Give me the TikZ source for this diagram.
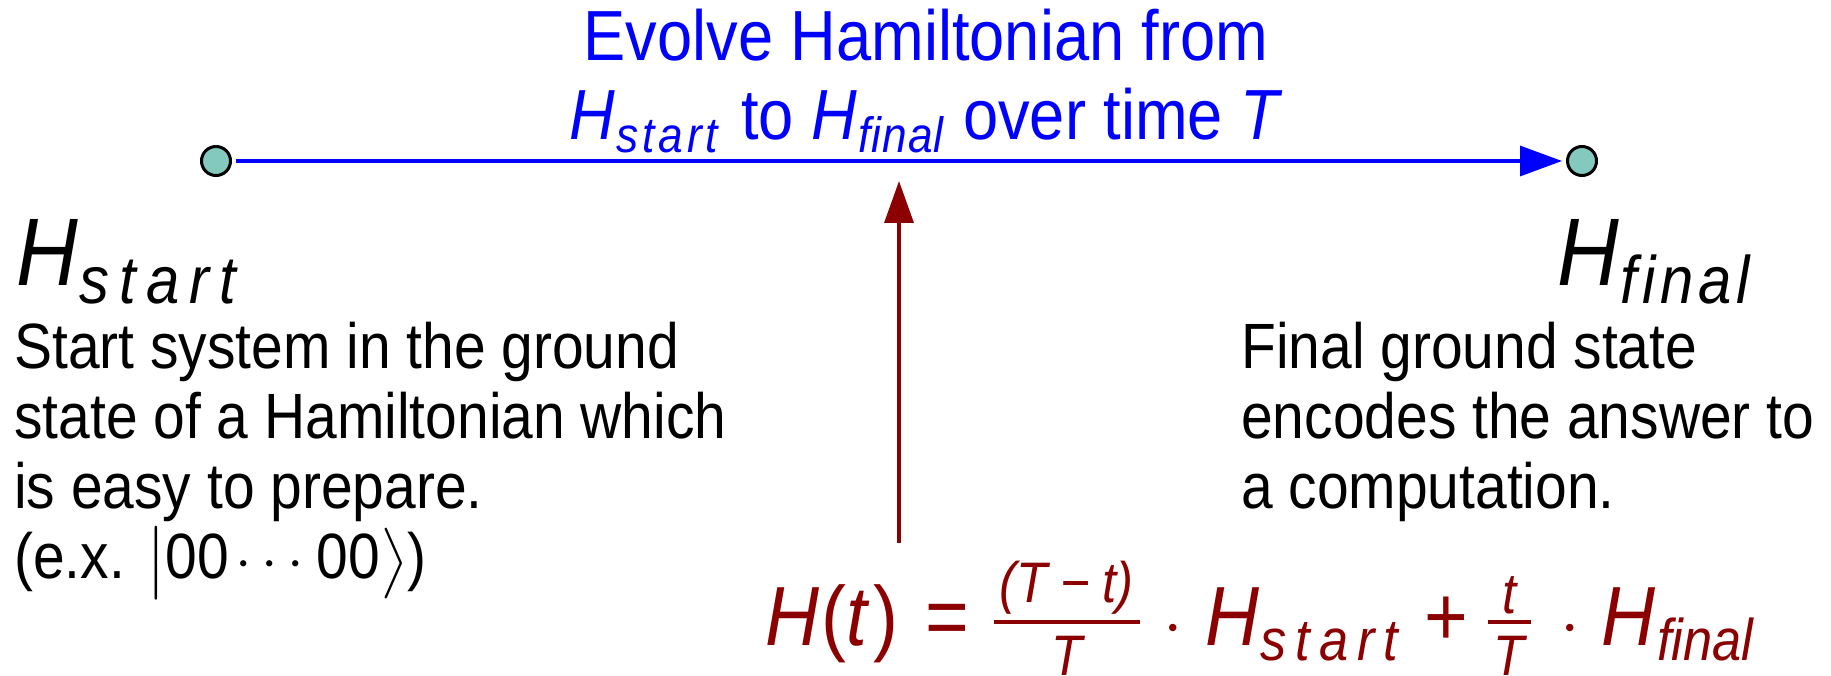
\documentclass[tikz,border=0pt]{standalone}
\usepackage{fontspec}
\usepackage{amsmath}
\usepackage{graphicx}
\setmainfont{Liberation Sans}[FakeStretch=0.89]
\usetikzlibrary{arrows.meta,positioning}
\definecolor{evolveblue}{RGB}{0,0,255}
\definecolor{hamred}{RGB}{139,0,0}
\definecolor{statefill}{RGB}{132,201,190}
\newcommand{\Hsub}[2][2]{\textit{H}\kern0.02em\raisebox{-0.18em}{\scalebox{0.7}{\addfontfeatures{LetterSpace=#1}\textit{#2}}}}
\newcommand{\mglyph}[2]{\scalebox{#1}{\fontsize{10}{12}\selectfont$#2$}}
\newcommand{\hfrac}[2]{{%
  \setbox0\hbox{\scalebox{0.68}{#1}}\setbox2\hbox{\scalebox{0.68}{#2}}%
  \dimen0=\wd0 \ifdim\wd2>\dimen0 \dimen0=\wd2 \fi
  \advance\dimen0 by 0.14em
  \rlap{\raise0.25em\vbox{\hbox to\dimen0{\hss\box0\hss}\kern0.07em\hrule height0.048em}}%
  \raise0.25em\vtop{\kern0.14em\hbox to\dimen0{\hss\box2\hss}}}}

\begin{document}
\begin{tikzpicture}[x=1pt,y=-1pt,
  state/.style={circle,draw=black,line width=3pt,fill=statefill,minimum size=29pt,inner sep=0pt},
  bigH/.style={font=\fontsize{96}{96}\selectfont,anchor=base west,inner sep=0pt},
  bodytext/.style={font=\fontsize{64}{70}\selectfont,align=left,anchor=base west,inner sep=0pt}]
  \useasboundingbox (0,0) rectangle (1831,676);
  % the two end states
  \node[state] (start) at (216,161) {};
  \node[state] (final) at (1582,161) {};
  \draw[evolveblue,line width=3.3pt,-{Triangle[length=42pt,width=30pt]},shorten <=4pt,shorten >=4pt](start)--(final);
  \node[evolveblue,font=\fontsize{71}{79}\selectfont,align=center,anchor=base,inner sep=0pt] (evolve) at (926,140)
    {Evolve Hamiltonian from\\ \Hsub[8]{start} to \Hsub{final} over time \textit{T}};
  % labels under the states
  \node[bigH] (hstart) at (16,286) {\Hsub[15]{start}};
  \node[bigH] (hfinal) at (1557,286) {\Hsub[7]{final}};
  \node[bodytext] (starttext) at (14,578)
    {Start system in the ground\\ state of a Hamiltonian which\\ is easy to prepare.\\ (e.x. \mglyph{5.9}{\bigl|}00\kern0.1em\mglyph{5.9}{\cdots}\kern0.04em00\mglyph{5.9}{\bigr\rangle})};
  \node[bodytext] (finaltext) at (1241,508)
    {Final ground state\\ encodes the answer to\\ a computation.};
  % interpolation
  \node[hamred,font=\fontsize{84}{84}\selectfont,anchor=base west,inner sep=0pt] (interp) at (765,645)
    {\textit{H}\kern0.03em(\textit{t}\kern0.04em)\hspace{27pt}=\hspace{25pt}\hfrac{\itshape (T\hspace{0.22em}−\hspace{0.22em}t)}{\itshape T}\hspace{24pt}\mglyph{7}{\cdot}\hspace{22pt}\Hsub[15]{start}\hspace{16pt}+\hspace{20pt}\hfrac{\itshape t}{\itshape T}\hspace{30pt}\mglyph{7}{\cdot}\hspace{21pt}\Hsub[0]{final}};
  \coordinate (eqtop) at (899,543);
  \coordinate (linehit) at (899,181);
  \draw[hamred,line width=3.5pt,-{Triangle[length=42pt,width=29pt]}](eqtop)--(linehit);
\end{tikzpicture}
\end{document}
